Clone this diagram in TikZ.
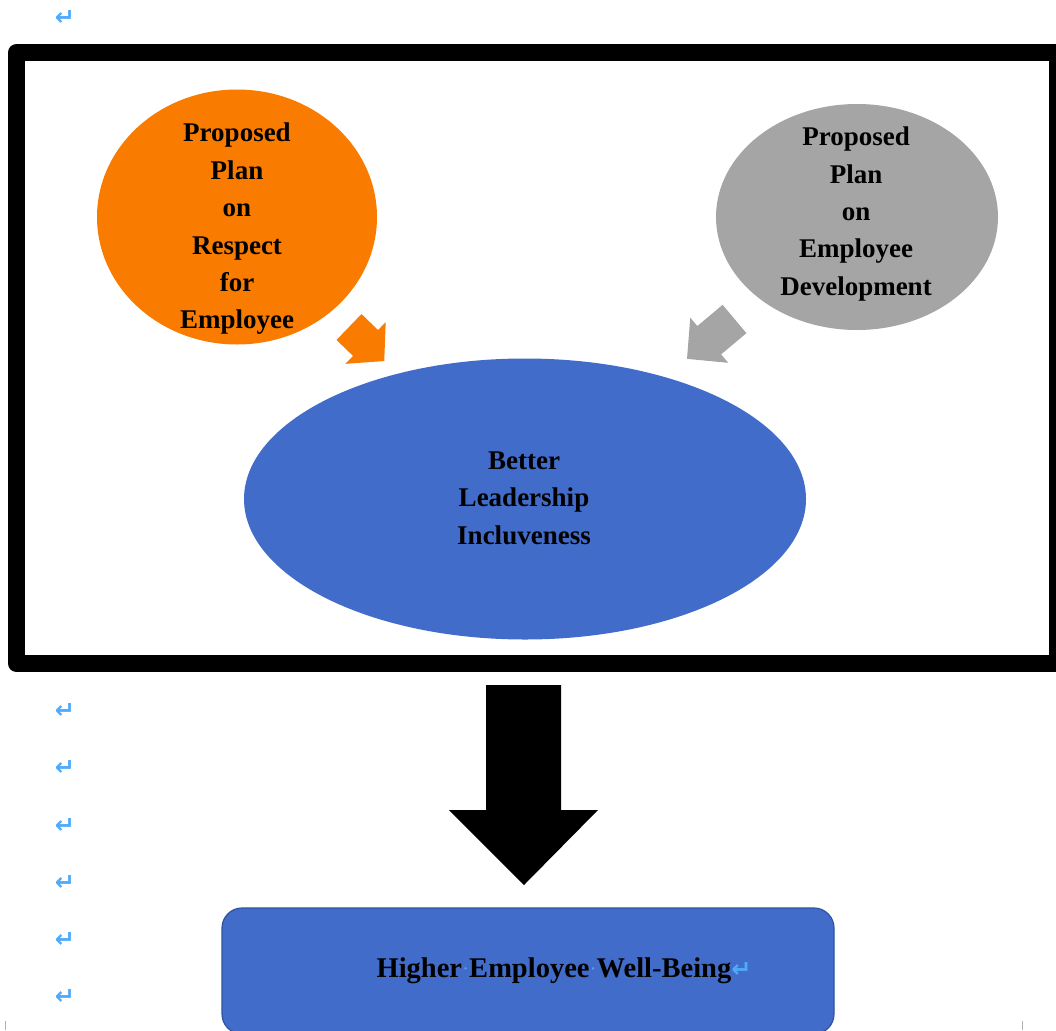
\documentclass[tikz,border=0pt]{standalone}
\usepackage{fontspec}
\setmainfont{Liberation Serif}
\newfontfamily\markfont{DejaVu Sans}
\usetikzlibrary{shapes.geometric}

\definecolor{planorange}{RGB}{249,124,0}
\definecolor{plangray}{RGB}{165,165,165}
\definecolor{leadblue}{RGB}{66,108,202}
\definecolor{boxedge}{RGB}{47,82,160}
\definecolor{markblue}{RGB}{80,170,250}

\newcommand{\retmark}{{\markfont\bfseries\fontsize{24}{24}\selectfont\textcolor{markblue}{↵}}}
\newcommand{\spmark}{\makebox[0.25em]{\raisebox{0.3ex}{\textcolor{markblue}{\fontsize{14}{14}\selectfont·}}}}

\begin{document}
\begin{tikzpicture}[x=1pt, y=-1pt,
        bubble_style/.style={ellipse, inner sep=0pt, draw=none},
        label_style/.style={align=center, text=black, font=\fontsize{27}{37.4}\selectfont\bfseries},
        result_style/.style={rectangle, rounded corners=20pt, draw=boxedge, line width=1.2pt, fill=leadblue,
            minimum width=612pt, minimum height=126pt, inner sep=0pt},
        mark_style/.style={inner sep=0pt}]

        \useasboundingbox (0,0) rectangle (1056,1030);
        \clip (0,0) rectangle (1056,1030);

        % outer frame
        \draw [line width=17pt, line join=round] (16.5,52.5) rectangle (1057.5,663.5);

        % the three bubbles
        \node [bubble_style, fill=planorange, minimum width=280pt, minimum height=255pt] (respect) at (237,217) {};
        \node [bubble_style, fill=plangray, minimum width=282pt, minimum height=226pt] (develop) at (857,217) {};
        \node [bubble_style, fill=leadblue, minimum width=562pt, minimum height=281pt] (lead) at (525,499) {};

        \node [label_style] (respect_text) at (237,229) {Proposed\\Plan\\on\\Respect\\for\\Employee};
        \node [label_style] (develop_text) at (856,214) {Proposed\\Plan\\on\\Employee\\Development};
        \node [label_style] (lead_text) at (524,498) {Better\\Leadership\\Incluveness};

        % small block arrows
        \fill [planorange, shift={(349,327)}, rotate=-44]
            (0,-18) -- (23,-18) -- (23,-29) -- (49,0) -- (23,29) -- (23,18) -- (0,18) -- cycle;
        \fill [plangray, shift={(734.5,319)}, rotate=220]
            (0,-18.5) -- (33,-18.5) -- (33,-29.5) -- (62,0) -- (33,29.5) -- (33,18.5) -- (0,18.5) -- cycle;

        % big arrow down
        \fill [black] (486,685) -- (561,685) -- (561,810) -- (598,810) -- (524,885) -- (449,810) -- (486,810) -- cycle;

        % result box
        \node [result_style] (wellbeing) at (528,971) {};
        \node [label_style, font=\fontsize{28.5}{34}\selectfont\bfseries] (wellbeing_text) at (564,971)
            {Higher\spmark Employee\spmark Well-Being\retmark};

        % paragraph marks
        \foreach \yy [count=\i] in {18,711,768,826,883,940,997}
            \node [mark_style] (ret\i) at (65,\yy) {\retmark};

        % page corner ticks
        \draw [gray!60, line width=0.8pt] (5,1021) -- (5,1030);
        \draw [gray!60, line width=0.8pt] (1022,1021) -- (1022,1030);

\end{tikzpicture}
\end{document}
